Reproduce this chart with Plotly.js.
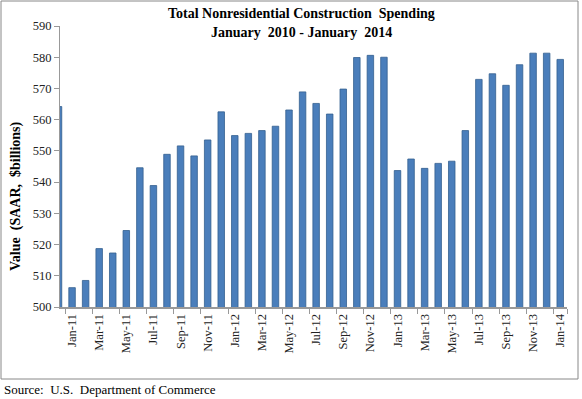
<!DOCTYPE html>
<html>
<head>
<meta charset="utf-8">
<script src="https://cdn.plot.ly/plotly-3.0.1.min.js"></script>
<style>html,body{margin:0;padding:0;background:#fff;}#chart{width:582px;height:399px;}</style>
</head>
<body>
<div id="chart"></div>
<script>
const months = ['Dec-10','Jan-11','Feb-11','Mar-11','Apr-11','May-11','Jun-11','Jul-11','Aug-11','Sep-11','Oct-11','Nov-11','Dec-11',
  'Jan-12','Feb-12','Mar-12','Apr-12','May-12','Jun-12','Jul-12','Aug-12','Sep-12','Oct-12','Nov-12','Dec-12',
  'Jan-13','Feb-13','Mar-13','Apr-13','May-13','Jun-13','Jul-13','Aug-13','Sep-13','Oct-13','Nov-13','Dec-13','Jan-14'];
const spending = [564.2,506.2,508.5,518.7,517.3,524.5,544.6,538.9,548.9,551.6,548.4,553.5,562.5,
  554.9,555.6,556.5,557.9,563.1,568.9,565.2,561.8,569.8,579.9,580.6,580.0,
  543.7,547.4,544.4,546.0,546.7,556.5,572.9,574.7,571.0,577.6,581.3,581.3,579.3];
const tickLabels = ['Jan-11','Mar-11','May-11','Jul-11','Sep-11','Nov-11','Jan-12','Mar-12','May-12','Jul-12','Sep-12','Nov-12',
  'Jan-13','Mar-13','May-13','Jul-13','Sep-13','Nov-13','Jan-14'];
const yTicks = [500,510,520,530,540,550,560,570,580,590];

const W = 582, H = 399;
const mL = 60, mR = 15, mT = 26, mB = 92;
const pw = W - mL - mR, ph = H - mT - mB;
const px = x => (x - mL) / pw;
const py = y => (H - mB - y) / ph;
const serif = 'Liberation Serif, Times New Roman, serif';

const trace = {
  type: 'bar', x: months, y: spending,
  marker: {color: '#4a7ebb', line: {color: '#34608f', width: 0.8}},
  hoverinfo: 'skip'
};

const layout = {
  width: W, height: H,
  margin: {l: mL, r: mR, t: mT, b: mB},
  paper_bgcolor: '#fff', plot_bgcolor: '#fff',
  showlegend: false,
  bargap: 0.52,
  xaxis: {
    type: 'category',
    range: [0.11, 37.5],
    tickvals: tickLabels, ticktext: tickLabels,
    tickangle: -90,
    tickson: 'boundaries',
    ticks: 'outside', ticklen: 5, tickcolor: '#999',
    showline: true, linecolor: '#999', linewidth: 2,
    showgrid: false, zeroline: false,
    tickfont: {family: serif, size: 12.5, color: '#222'}
  },
  yaxis: {
    range: [500, 590],
    tickvals: yTicks,
    ticks: 'outside', ticklen: 5, tickcolor: '#999',
    showline: true, linecolor: '#999', linewidth: 1,
    showgrid: false, zeroline: false,
    tickfont: {family: serif, size: 12.5, color: '#222'}
  },
  annotations: [
    {text: '<b>Total Nonresidential Construction  Spending</b>',
     xref: 'paper', yref: 'paper', x: px(301), y: py(14), xanchor: 'center', yanchor: 'middle',
     showarrow: false, font: {family: serif, size: 14, color: '#000'}},
    {text: '<b>January  2010 - January  2014</b>',
     xref: 'paper', yref: 'paper', x: px(301), y: py(32), xanchor: 'center', yanchor: 'middle',
     showarrow: false, font: {family: serif, size: 14, color: '#000'}},
    {text: '<b>Value  (SAAR,  $billions)</b>', textangle: -90,
     xref: 'paper', yref: 'paper', x: px(16), y: py(196), xanchor: 'center', yanchor: 'middle',
     showarrow: false, font: {family: serif, size: 14, color: '#000'}},
    {text: 'Source:  U.S.  Department of Commerce',
     xref: 'paper', yref: 'paper', x: px(2), y: py(389), xanchor: 'left', yanchor: 'middle',
     showarrow: false, font: {family: serif, size: 13, color: '#000'}}
  ],
  shapes: [
    {type: 'rect', xref: 'paper', yref: 'paper', x0: px(1), x1: px(578), y0: py(1), y1: py(379),
     line: {color: '#888', width: 1}, fillcolor: 'rgba(0,0,0,0)', layer: 'below'}
  ]
};

Plotly.newPlot('chart', [trace], layout, {staticPlot: true, displayModeBar: false});
</script>
</body>
</html>
